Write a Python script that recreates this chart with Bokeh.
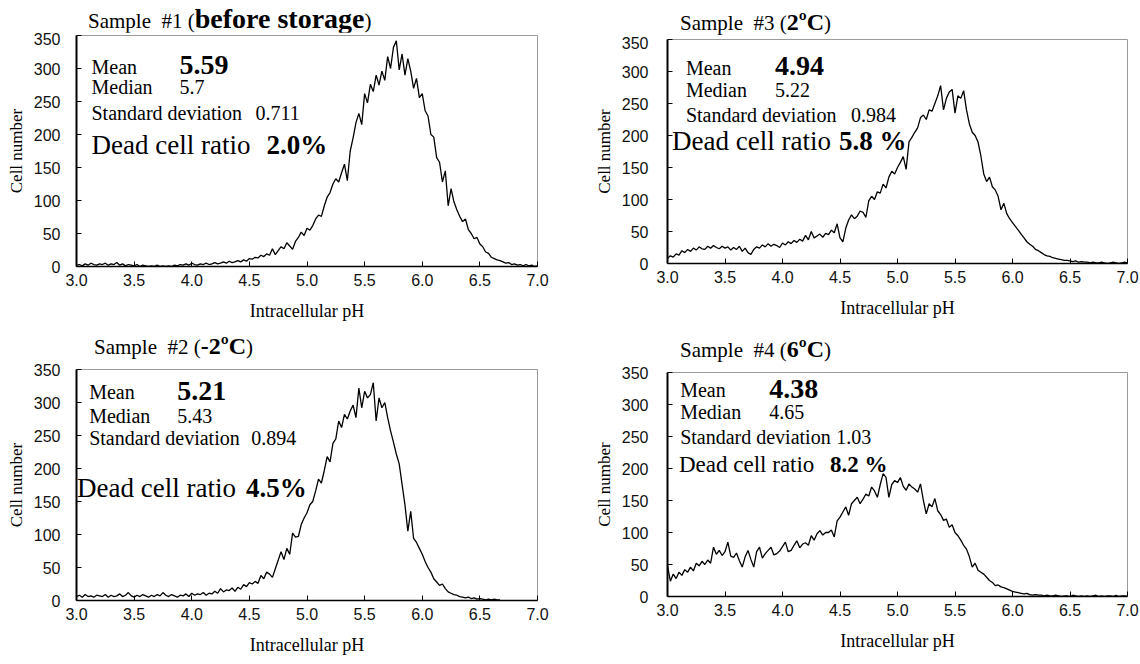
import numpy as np
from bokeh.plotting import figure
from bokeh.models import Range1d, FixedTicker, NumeralTickFormatter, Label, ColumnDataSource, Div
from bokeh.layouts import row, column
from bokeh.embed import file_html
from bokeh.resources import INLINE

# ---------------- data ----------------
PH_START = 3.0
PH_STEP = 0.025          # histogram bin width (pH)

x_ticks = [3.0, 3.5, 4.0, 4.5, 5.0, 5.5, 6.0, 6.5, 7.0]
y_ticks = [0, 50, 100, 150, 200, 250, 300, 350]

# Sample #1 (before storage), bins from pH 3.0, 8 bins per row
counts_s1 = [
    2, 3, 1, 4, 2, 5, 3, 2,
    4, 3, 5, 2, 4, 3, 6, 2,
    4, 1, 3, 2, 1, 3, 0, 2,
    1, 0, 1, 0, 2, 0, 1, 0,
    1, 0, 2, 1, 3, 2, 4, 2,
    5, 3, 2, 4, 3, 5, 3, 4,
    6, 4, 5, 7, 5, 8, 6, 7,
    9, 7, 10, 8, 12, 11, 14, 13,
    17, 15, 19, 17, 27, 18, 24, 30,
    27, 36, 31, 26, 38, 44, 52, 47,
    58, 55, 62, 72, 78, 76, 92, 105,
    112, 125, 133, 128, 142, 155, 130, 175,
    195, 218, 232, 215, 262, 248, 276, 265,
    290, 275, 296, 282, 318, 300, 332, 342,
    298, 322, 290, 315, 296, 270, 285, 256,
    262, 236, 228, 200, 196, 165, 158, 128,
    145, 92, 118, 98, 86, 76, 68, 72,
    56, 50, 42, 44, 34, 30, 22, 20,
    14, 12, 10, 9, 7, 5, 6, 3,
    4, 2, 3, 1, 3, 1, 2, 0,
    1,
]

# Sample #2 (-2ºC)
counts_s2 = [
    6, 8, 5, 9, 6, 7, 5, 8,
    7, 6, 9, 5, 8, 6, 7, 10,
    6, 8, 12, 7, 5, 8, 6, 9,
    7, 5, 8, 6, 9, 7, 12, 8,
    6, 9, 7, 5, 8, 7, 10, 6,
    11, 8, 10, 9, 12, 8, 11, 10,
    14, 11, 18, 13, 16, 15, 19, 14,
    20, 17, 24, 21, 27, 25, 29, 26,
    38, 33, 43, 40, 35, 48, 61, 74,
    62, 79, 70, 102, 96, 97, 115, 125,
    133, 145, 150, 166, 184, 178, 197, 218,
    210, 238, 245, 272, 262, 282, 275, 287,
    296, 277, 322, 292, 317, 307, 312, 330,
    272, 307, 292, 300, 277, 257, 240, 222,
    207, 176, 145, 105, 135, 94, 88, 79,
    70, 59, 50, 43, 33, 28, 23, 25,
    18, 13, 11, 9, 8, 6, 5, 4,
    5, 3, 4, 2, 3, 2, 1, 2,
    1, 2, 1, 1,
]

# Sample #3 (2ºC)
counts_s3 = [
    8, 12, 10, 15, 13, 20, 17, 22,
    19, 24, 21, 26, 23, 22, 27, 24,
    28, 25, 23, 27, 24, 26, 21, 25,
    22, 27, 19, 24, 17, 14, 22, 26,
    24, 29, 26, 31, 27, 30, 28, 25,
    32, 29, 34, 31, 36, 33, 38, 35,
    44, 37, 50, 40, 43, 46, 41, 47,
    45, 52, 48, 62, 40, 34, 55, 68,
    76, 70, 74, 82, 80, 72, 98, 105,
    100, 112, 110, 124, 118, 135, 144, 140,
    150, 158, 167, 147, 190, 197, 205, 212,
    228, 232, 225, 240, 238, 250, 262, 278,
    240, 258, 268, 272, 235, 262, 258, 270,
    240, 218, 205, 200, 190, 168, 140, 128,
    135, 120, 115, 105, 84, 94, 78, 70,
    64, 58, 52, 46, 40, 34, 30, 27,
    22, 20, 17, 14, 12, 11, 9, 8,
    7, 6, 5, 5, 4, 3, 4, 2,
    3, 2, 2, 1, 2, 1, 1, 2,
    1, 0, 1, 2, 1, 0, 1, 2,
    1,
]

# Sample #4 (6ºC)
counts_s4 = [
    48, 24, 35, 28, 38, 33, 42, 38,
    46, 40, 52, 48, 55, 50, 57, 52,
    77, 66, 72, 64, 70, 85, 63, 61,
    68, 56, 46, 62, 72, 58, 46, 70,
    77, 60, 67, 72, 77, 65, 67, 71,
    78, 85, 70, 72, 80, 87, 76, 82,
    84, 80, 95, 88, 98, 103, 96, 100,
    100, 104, 93, 118, 124, 132, 140, 127,
    145, 150, 155, 145, 152, 160, 157, 171,
    165, 155, 175, 192, 186, 155, 175, 181,
    178, 186, 172, 166, 176, 171, 168, 163,
    176, 150, 129, 145, 140, 153, 134, 128,
    119, 121, 108, 112, 100, 95, 88, 80,
    74, 62, 46, 52, 41, 38, 35, 30,
    25, 22, 17, 18, 15, 14, 12, 10,
    8, 7, 6, 5, 4, 5, 3, 2,
    3, 2, 2, 1, 2, 1, 1, 2,
    1, 0, 1, 1, 0, 2, 1, 0,
    1, 0, 1, 0, 1, 2, 0, 1,
    0, 1, 1, 0, 2, 0, 1, 1,
    0,
]

sample_names = ["Sample\u00a0 #1 (", "Sample\u00a0 #2 (", "Sample\u00a0 #3 (", "Sample\u00a0 #4 ("]
conditions = ["before storage", "-2ºC", "2ºC", "6ºC"]
mean_values = ["5.59", "5.21", "4.94", "4.38"]
median_values = ["5.7", "5.43", "5.22", "4.65"]
sd_values = ["0.711", "0.894", "0.984", "1.03"]
dead_ratios = ["2.0%", "4.5%", "5.8 %", "8.2 %"]

# ---------------- styling / layout ----------------
SERIF = "Liberation Serif"
SANS = "Liberation Sans"

layouts = [
    # dh: title strip height, tl/tc: title left / centre (px), bs: bold title size,
    # b: figure borders (left, right, top, bottom), ls: y tick-label standoff,
    # x0: stats left (pH); ys: y of mean, mean value, median, sd, dead (cell number);
    # off: px offsets of mean/median value, sd value, dead value; ds: dead text size
    dict(dh=32, tl=88, tc=19, bs=28, b=(76, 33, 3, 66), ls=16,
         x0=3.13, ys=(302, 306, 272, 232, 184), off=(88, 164, 175), ds=27),
    dict(dh=30, tl=94, tc=14, bs=24, b=(76, 33, 7, 64), ls=16,
         x0=3.11, ys=(316, 318, 280, 246, 171), off=(88, 162, 169), ds=27, dx0=3.005),
    dict(dh=36, tl=110, tc=22, bs=24, b=(97, 13, 3, 69), ls=19,
         x0=3.16, ys=(306, 309, 271, 232, 192), off=(89, 165, 167), ds=27, dx0=3.04),
    dict(dh=32, tl=110, tc=17, bs=24, b=(97, 13, 8, 68), ls=19,
         x0=3.11, ys=(323, 325, 288, 250, 207), off=(89, 156, 151), ds=23, dx0=3.10),
]


def lab(p, x, y, text, size, bold=False, xoff=0):
    p.add_layout(Label(x=x, y=y, x_units="data", y_units="data", text=text,
                       x_offset=xoff,
                       text_font=SERIF, text_font_size=size,
                       text_font_style="bold" if bold else "normal",
                       text_baseline="middle", text_align="left",
                       text_color="black"))


def make_panel(i, counts):
    L = layouts[i]
    bl, br, bt, bb = L["b"]
    lh = 24
    html = (
        f'<div style="padding-left:{L["tl"]}px; padding-top:{L["tc"] - lh // 2}px; '
        f'line-height:{lh}px; white-space:nowrap; '
        f'font-family:\'Liberation Serif\', \'Times New Roman\', serif; '
        f'font-size:21px; color:black;">{sample_names[i]}'
        f'<b style="font-family:\'Liberation Serif\', \'Times New Roman\', serif; '
        f'font-size:{L["bs"]}px">{conditions[i]}</b>)</div>'
    )
    div = Div(text=html, width=570, height=L["dh"], margin=(0, 0, 0, 0),
              styles={"font-family": "'Liberation Serif', serif", "color": "black"})

    p = figure(width=570, height=332 - L["dh"], x_range=Range1d(3.0, 7.0), y_range=Range1d(0, 350),
               output_backend="svg", toolbar_location=None,
               min_border_left=bl, min_border_right=br, min_border_top=bt, min_border_bottom=bb)
    p.outline_line_color = "#9a9a9a"
    p.outline_line_width = 1
    p.xgrid.visible = False
    p.ygrid.visible = False
    p.background_fill_color = "white"
    p.border_fill_color = "white"

    ph = PH_START + PH_STEP * np.arange(len(counts))
    src = ColumnDataSource(dict(ph=ph, count=counts))
    p.line("ph", "count", source=src, line_color="black", line_width=1.3)

    for ax in (p.xaxis[0], p.yaxis[0]):
        ax.major_label_text_font = SANS
        ax.major_label_text_font_size = "16px"
        ax.major_label_text_color = "#111111"
        ax.axis_label_text_font = SERIF
        ax.axis_label_text_font_style = "normal"
        ax.axis_label_text_color = "black"
        ax.minor_tick_line_color = None
        ax.major_tick_in = 5
        ax.major_tick_out = 0
        ax.major_tick_line_color = "black"
        ax.axis_line_color = "black"
    p.xaxis.ticker = FixedTicker(ticks=x_ticks)
    p.xaxis.formatter = NumeralTickFormatter(format="0.0")
    p.yaxis.ticker = FixedTicker(ticks=y_ticks)
    p.xaxis.axis_label = "Intracellular pH"
    p.yaxis.axis_label = "Cell number"
    p.xaxis.axis_label_text_font_size = "18px"
    p.yaxis.axis_label_text_font_size = "17px"
    p.xaxis.major_label_standoff = 7
    p.yaxis.major_label_standoff = L["ls"]
    p.xaxis.axis_label_standoff = 12
    p.yaxis.axis_label_standoff = 5
    p.yaxis.axis_line_width = 2
    p.xaxis.axis_line_width = 1.5

    x0 = L["x0"]
    ys = L["ys"]
    off = L["off"]
    lab(p, x0, ys[0], "Mean", "20px")
    lab(p, x0, ys[1], mean_values[i], "28px", bold=True, xoff=off[0])
    lab(p, x0, ys[2], "Median", "20px")
    lab(p, x0, ys[2], median_values[i], "20px", xoff=off[0])
    lab(p, x0, ys[3], "Standard deviation", "20px")
    lab(p, x0, ys[3], sd_values[i], "20px", xoff=off[1])
    dx0 = L.get("dx0", x0)
    ds = f'{L["ds"]}px'
    lab(p, dx0, ys[4], "Dead cell ratio", ds)
    lab(p, dx0, ys[4], dead_ratios[i], ds, bold=True, xoff=off[2])
    return column(div, p, spacing=0)


c1 = make_panel(0, counts_s1)
c2 = make_panel(1, counts_s2)
c3 = make_panel(2, counts_s3)
c4 = make_panel(3, counts_s4)

layout = column(row(c1, c3, spacing=0), row(c2, c4, spacing=0), spacing=0)

open("out.html", "w").write(file_html(layout, INLINE))
